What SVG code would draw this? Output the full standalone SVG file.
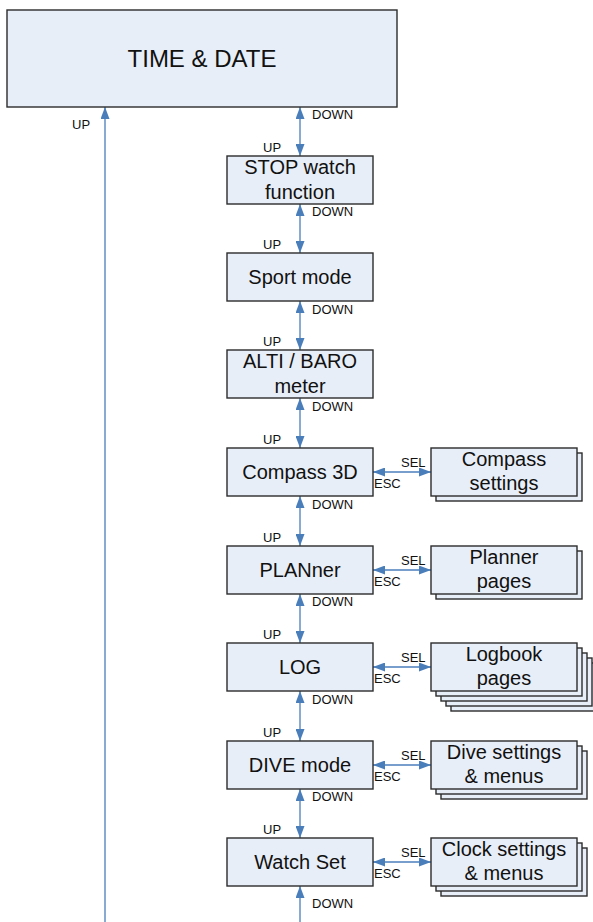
<svg xmlns="http://www.w3.org/2000/svg" width="593" height="922" viewBox="0 0 593 922">
<style>
.box{fill:#e8eef7;stroke:#2b2b2b;stroke-width:1.4}
.t{font-family:"Liberation Sans",Arial,sans-serif;font-size:20px;fill:#111;text-anchor:middle}
.big{font-size:24px}
.lb{font-family:"Liberation Sans",Arial,sans-serif;font-size:13px;fill:#111}
.c{stroke:#4a7ebb;stroke-width:1.3;fill:none}
</style>
<defs>
<marker id="ah" markerUnits="userSpaceOnUse" markerWidth="12" markerHeight="9" viewBox="0 0 12 9" refX="12" refY="4.5" orient="auto-start-reverse">
<path d="M0,0 L12,4.5 L0,9 Z" fill="#4a7ebb"/>
</marker>
</defs>
<rect width="593" height="922" fill="#fff"/>
<g id="connectors">
<line class="c" x1="105" y1="922" x2="105" y2="107" marker-end="url(#ah)"/>
<line class="c" x1="300" y1="107" x2="300" y2="156" marker-start="url(#ah)" marker-end="url(#ah)"/>
<line class="c" x1="300" y1="204" x2="300" y2="253" marker-start="url(#ah)" marker-end="url(#ah)"/>
<line class="c" x1="300" y1="301" x2="300" y2="350" marker-start="url(#ah)" marker-end="url(#ah)"/>
<line class="c" x1="300" y1="398" x2="300" y2="448" marker-start="url(#ah)" marker-end="url(#ah)"/>
<line class="c" x1="300" y1="496" x2="300" y2="546" marker-start="url(#ah)" marker-end="url(#ah)"/>
<line class="c" x1="300" y1="594" x2="300" y2="643" marker-start="url(#ah)" marker-end="url(#ah)"/>
<line class="c" x1="300" y1="691" x2="300" y2="741" marker-start="url(#ah)" marker-end="url(#ah)"/>
<line class="c" x1="300" y1="789" x2="300" y2="838" marker-start="url(#ah)" marker-end="url(#ah)"/>
<line class="c" x1="300" y1="922" x2="300" y2="886" marker-end="url(#ah)"/>
<line class="c" x1="373" y1="472" x2="431" y2="472" marker-start="url(#ah)" marker-end="url(#ah)"/>
<line class="c" x1="373" y1="570" x2="431" y2="570" marker-start="url(#ah)" marker-end="url(#ah)"/>
<line class="c" x1="373" y1="667" x2="431" y2="667" marker-start="url(#ah)" marker-end="url(#ah)"/>
<line class="c" x1="373" y1="765" x2="431" y2="765" marker-start="url(#ah)" marker-end="url(#ah)"/>
<line class="c" x1="373" y1="862" x2="431" y2="862" marker-start="url(#ah)" marker-end="url(#ah)"/>
<text class="lb" x="72" y="129">UP</text>
<text class="lb" x="312" y="119">DOWN</text>
<text class="lb" x="263" y="152">UP</text>
<text class="lb" x="312" y="216">DOWN</text>
<text class="lb" x="263" y="249">UP</text>
<text class="lb" x="312" y="314">DOWN</text>
<text class="lb" x="263" y="346">UP</text>
<text class="lb" x="312" y="411">DOWN</text>
<text class="lb" x="263" y="444">UP</text>
<text class="lb" x="312" y="509">DOWN</text>
<text class="lb" x="263" y="542">UP</text>
<text class="lb" x="312" y="606">DOWN</text>
<text class="lb" x="263" y="639">UP</text>
<text class="lb" x="312" y="704">DOWN</text>
<text class="lb" x="263" y="737">UP</text>
<text class="lb" x="312" y="801">DOWN</text>
<text class="lb" x="263" y="834">UP</text>
<text class="lb" x="312" y="908">DOWN</text>
<text class="lb" x="401" y="467">SEL</text><text class="lb" x="374" y="488">ESC</text>
<text class="lb" x="401" y="565">SEL</text><text class="lb" x="374" y="586">ESC</text>
<text class="lb" x="401" y="662">SEL</text><text class="lb" x="374" y="683">ESC</text>
<text class="lb" x="401" y="760">SEL</text><text class="lb" x="374" y="781">ESC</text>
<text class="lb" x="401" y="857">SEL</text><text class="lb" x="374" y="878">ESC</text>
</g>
<g id="time-date"><rect class="box" x="7" y="10" width="390" height="97"/><text class="t big" x="202" y="67">TIME &amp; DATE</text></g>
<g id="stop-watch"><rect class="box" x="227" y="156" width="146" height="48"/><text class="t" x="300" y="174">STOP watch</text><text class="t" x="300" y="199">function</text></g>
<g id="sport-mode"><rect class="box" x="227" y="253" width="146" height="48"/><text class="t" x="300" y="284">Sport mode</text></g>
<g id="alti-baro"><rect class="box" x="227" y="350" width="146" height="48"/><text class="t" x="300" y="368">ALTI / BARO</text><text class="t" x="300" y="393">meter</text></g>
<g id="compass-3d"><rect class="box" x="227" y="448" width="146" height="48"/><text class="t" x="300" y="479">Compass 3D</text></g>
<g id="planner"><rect class="box" x="227" y="546" width="146" height="48"/><text class="t" x="300" y="577">PLANner</text></g>
<g id="log"><rect class="box" x="227" y="643" width="146" height="48"/><text class="t" x="300" y="674">LOG</text></g>
<g id="dive-mode"><rect class="box" x="227" y="741" width="146" height="48"/><text class="t" x="300" y="772">DIVE mode</text></g>
<g id="watch-set"><rect class="box" x="227" y="838" width="146" height="48"/><text class="t" x="300" y="869">Watch Set</text></g>
<g id="compass-settings">
<rect class="box" x="436" y="453" width="146" height="48"/>
<rect class="box" x="431" y="448" width="146" height="48"/>
<text class="t" x="504" y="466">Compass</text><text class="t" x="504" y="490">settings</text></g>
<g id="planner-pages">
<rect class="box" x="436" y="551" width="146" height="48"/>
<rect class="box" x="431" y="546" width="146" height="48"/>
<text class="t" x="504" y="564">Planner</text><text class="t" x="504" y="588">pages</text></g>
<g id="logbook-pages">
<rect class="box" x="451" y="663" width="146" height="48"/>
<rect class="box" x="446" y="658" width="146" height="48"/>
<rect class="box" x="441" y="653" width="146" height="48"/>
<rect class="box" x="436" y="648" width="146" height="48"/>
<rect class="box" x="431" y="643" width="146" height="48"/>
<text class="t" x="504" y="661">Logbook</text><text class="t" x="504" y="685">pages</text></g>
<g id="dive-settings">
<rect class="box" x="441" y="751" width="146" height="48"/>
<rect class="box" x="436" y="746" width="146" height="48"/>
<rect class="box" x="431" y="741" width="146" height="48"/>
<text class="t" x="504" y="759">Dive settings</text><text class="t" x="504" y="783">&amp; menus</text></g>
<g id="clock-settings">
<rect class="box" x="441" y="848" width="146" height="48"/>
<rect class="box" x="436" y="843" width="146" height="48"/>
<rect class="box" x="431" y="838" width="146" height="48"/>
<text class="t" x="504" y="856">Clock settings</text><text class="t" x="504" y="880">&amp; menus</text></g>
</svg>
